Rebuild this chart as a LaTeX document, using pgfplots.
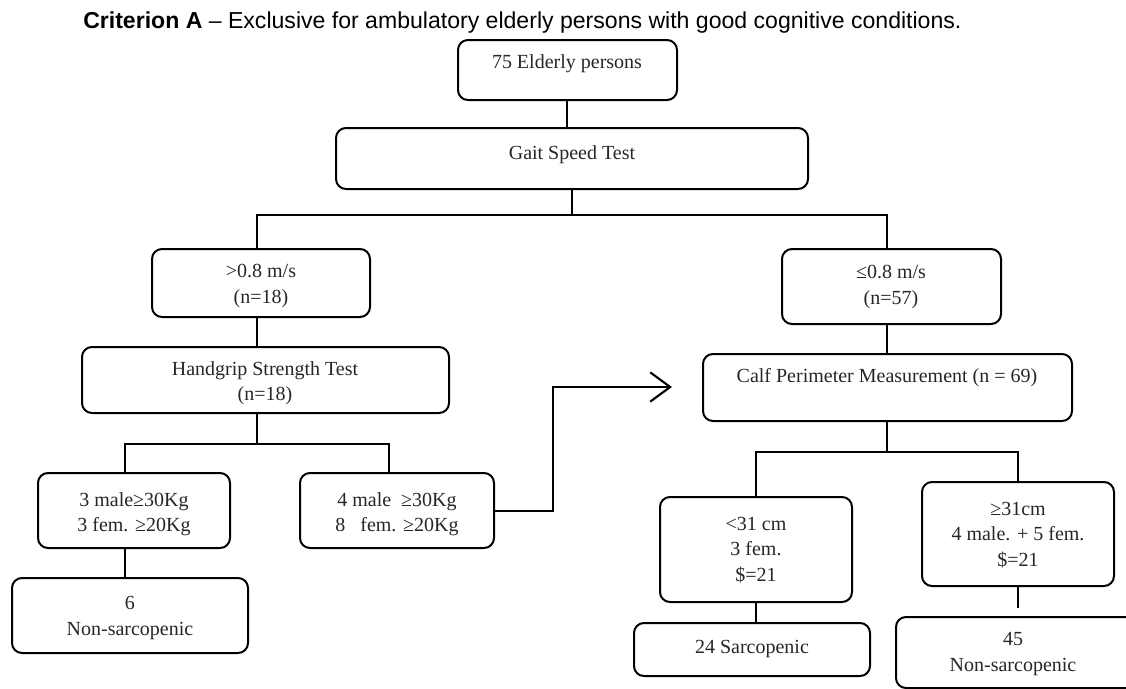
\documentclass[border=0pt]{standalone}
\usepackage{pgfplots}
\pgfplotsset{compat=1.18}
\usepackage{fontspec}
\setmainfont{Liberation Serif}
\newfontfamily\titlefont{Liberation Sans}
\usetikzlibrary{arrows.meta}
\tikzset{
  bx/.style={draw=black, line width=1.5pt, rounded corners=7.5pt},
  tx/.style={align=center, inner sep=0pt, text=black!85, font=\fontsize{15}{19}\selectfont},
  ln/.style={black, line width=1.8pt, no marks}
}
\begin{document}
\begin{tikzpicture}
\begin{axis}[width=844.5pt, height=516.75pt, scale only axis, hide axis,
  xmin=0, xmax=1126, ymin=0, ymax=689, y dir=reverse, clip=false]
% title
\node[anchor=west, inner sep=0pt, font=\titlefont\fontsize{17.3}{20}\selectfont]
  at (axis cs:83,23) {\textbf{Criterion A} – Exclusive for ambulatory elderly persons with good cognitive conditions.};
% connectors
\addplot[ln] coordinates {(567,100) (567,128)};
\addplot[ln] coordinates {(572,189) (572,215)};
\addplot[ln] coordinates {(257,249) (257,215) (887,215) (887,249)};
\addplot[ln] coordinates {(257,317) (257,347)};
\addplot[ln] coordinates {(887,324) (887,354)};
\addplot[ln] coordinates {(257,413) (257,444)};
\addplot[ln] coordinates {(125,473) (125,444) (389,444) (389,473)};
\addplot[ln] coordinates {(125,548) (125,578)};
\addplot[ln] coordinates {(887,421) (887,452)};
\addplot[ln] coordinates {(756,497) (756,452) (1018,452) (1018,482)};
\addplot[ln] coordinates {(756,602) (756,623)};
\addplot[ln] coordinates {(1018,586) (1018,608)};
\addplot[ln, -{Straight Barb[length=15pt,width=22pt,line width=1.6pt]}] coordinates {(493,511) (553,511) (553,387) (672,387)};
% boxes
\draw[bx] (axis cs:458,40) rectangle (axis cs:677,100);
\draw[bx] (axis cs:336,128) rectangle (axis cs:808,189);
\draw[bx] (axis cs:152,249) rectangle (axis cs:370,317);
\draw[bx] (axis cs:782,249) rectangle (axis cs:1001,324);
\draw[bx] (axis cs:82,347) rectangle (axis cs:449,413);
\draw[bx] (axis cs:703,354) rectangle (axis cs:1072,421);
\draw[bx] (axis cs:38,473) rectangle (axis cs:230,548);
\draw[bx] (axis cs:300,473) rectangle (axis cs:494,548);
\draw[bx] (axis cs:12,578) rectangle (axis cs:248,653);
\draw[bx] (axis cs:660,497) rectangle (axis cs:852,602);
\draw[bx] (axis cs:922,482) rectangle (axis cs:1114,586);
\draw[bx] (axis cs:634,623) rectangle (axis cs:870,676);
\draw[bx] (axis cs:896,617) rectangle (axis cs:1140,688);
% texts
\node[tx] at (axis cs:567,64) {75 Elderly persons};
\node[tx] at (axis cs:572,155) {Gait Speed Test};
\node[tx] at (axis cs:261,286) {>0.8 m/s\\(n=18)};
\node[tx] at (axis cs:891,287) {≤0.8 m/s\\(n=57)};
\node[tx] at (axis cs:265,383) {Handgrip Strength Test\\(n=18)};
\node[tx] at (axis cs:887,378) {Calf Perimeter Measurement (n = 69)};
\node[tx] at (axis cs:134,514) {3 male≥30Kg\\3 fem. ≥20Kg};
\node[tx] at (axis cs:397,514) {4 male\ \ ≥30Kg\\8\ \ \ fem. ≥20Kg};
\node[tx] at (axis cs:130,618) {6\\Non-sarcopenic};
\node[tx] at (axis cs:756,550) {<31 cm\\3 fem.\\\$=21};
\node[tx] at (axis cs:1018,535) {≥31cm\\4 male. + 5 fem.\\\$=21};
\node[tx] at (axis cs:752,649) {24 Sarcopenic};
\node[tx] at (axis cs:1013,654) {45\\Non-sarcopenic};
\end{axis}
\pgfresetboundingbox
\path[use as bounding box] (current axis.south west) rectangle (current axis.north east);
\end{tikzpicture}
\end{document}
